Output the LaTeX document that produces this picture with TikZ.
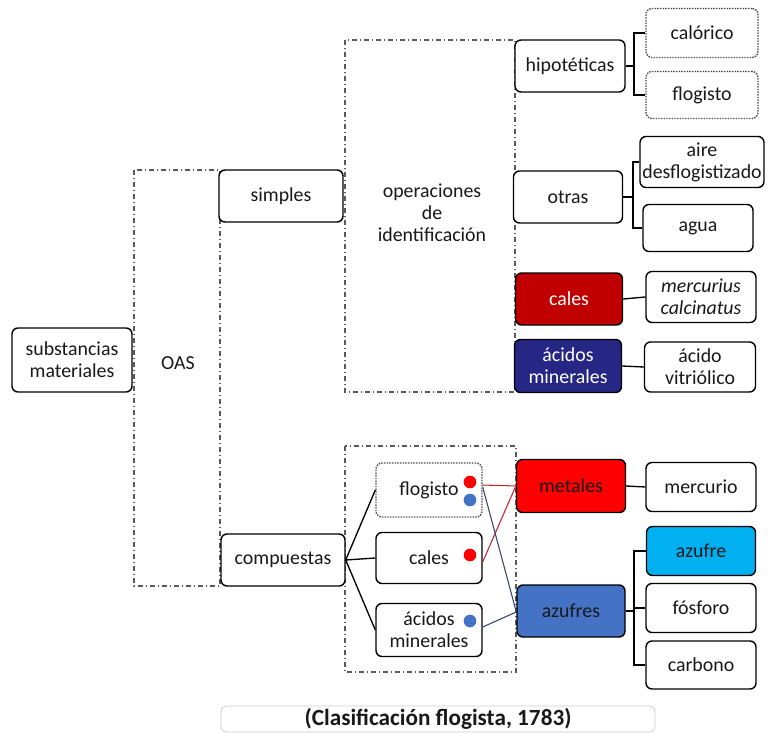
\documentclass[tikz,border=0pt]{standalone}
\usepackage{fontspec}
\setmainfont{Carlito}
\definecolor{calred}{HTML}{C00000}
\definecolor{acblue}{HTML}{262684}
\definecolor{metred}{HTML}{FF0000}
\definecolor{azblue}{HTML}{4472C4}
\definecolor{azcyan}{HTML}{00B0F0}
\definecolor{redline}{HTML}{C0282D}
\definecolor{blueline}{HTML}{3B4470}
\definecolor{dotblue}{HTML}{4472C4}
\begin{document}
\begin{tikzpicture}[x=0.75pt,y=-0.75pt,
  font=\fontsize{14.9}{16.6}\selectfont,
  box/.style={draw=black, line width=1.05pt, rounded corners=4.5pt, fill=white, align=center, inner sep=0pt, text=black!90},
  sz/.style 2 args={minimum width={(#1)*0.75pt}, minimum height={(#2)*0.75pt}},
  dotb/.style={box, draw=black!70, line width=1.05pt, dash pattern=on 1.1pt off 0.9pt},
  dd/.style={draw=black!65, line width=0.8pt, dash pattern=on 4pt off 2pt on 1pt off 2pt},
  conn/.style={draw=black, line width=1pt},
  rline/.style={draw=redline, line width=0.8pt},
  bline/.style={draw=blueline, line width=0.8pt},
  rdot/.style={fill=metred, draw=none, circle, inner sep=0pt, minimum size=9.5pt},
  bdot/.style={fill=dotblue, draw=none, circle, inner sep=0pt, minimum size=9.5pt},
  plain/.style={align=center, inner sep=0pt, text=black!90}]
\useasboundingbox (0,0) rectangle (770,734);
\fill[white] (0,0) rectangle (770,734);

% dash-dot groups
\draw[dd] (134,170) rectangle (220,586);
\draw[dd] (345,40) rectangle (515,392);
\draw[dd] (345,446) rectangle (516,672);

% texts
\node[plain] (oas) at (178,363) {OAS};
\node[plain] (ops) at (432,213) {operaciones\\de\\identificación};

% left nodes
\node[box, sz={120}{64}] (sub) at (72,360) {substancias\\materiales};
\node[box, sz={124}{52}] (simp) at (281,196) {simples};
\node[box, sz={124}{52}] (comp) at (283,560) {compuestas};

% simples branch
\node[box, sz={110}{52}] (hip) at (570,66) {hipotéticas};
\node[dotb, sz={112}{49}] (cal) at (702,33) {calórico};
\node[dotb, sz={112}{47}] (flt) at (702,95) {flogisto};
\node[box, sz={109}{52}] (otr) at (568,197) {otras};
\node[box, sz={124}{51}] (aire) at (702,162) {aire\\desflogistizado};
\node[box, sz={110}{47}] (agua) at (698,228) {agua};
\node[box, sz={107}{52}, fill=calred, text=white] (calA) at (569,299) {cales};
\node[box, sz={110}{51}, font=\fontsize{14.9}{16.6}\selectfont\itshape] (merc) at (701,297) {mercurius\\calcinatus};
\node[box, sz={107}{53}, fill=acblue, text=white] (acA) at (568,366) {ácidos\\minerales};
\node[box, sz={111}{50}] (vit) at (700,367) {ácido\\vitriólico};

% compuestas branch
\node[dotb, sz={106}{54}] (flB) at (429,490) {flogisto};
\node[box, sz={106}{51}] (calB) at (429,558) {cales};
\node[box, sz={106}{53}] (acB) at (429,630) {ácidos\\minerales};
\node[rdot] (d1) at (470,482) {};
\node[bdot] (d2) at (470,500) {};
\node[rdot] (d3) at (470,555) {};
\node[bdot] (d4) at (470,621) {};

\node[box, sz={109}{53}, fill=metred] (met) at (571,486) {metales};
\node[box, sz={110}{49}] (mercB) at (701,487) {mercurio};
\node[box, sz={108}{52}, fill=azblue] (azs) at (571,611) {azufres};
\node[box, sz={109}{49}, fill=azcyan] (azu) at (701,551) {azufre};
\node[box, sz={110}{49}] (fos) at (701,608) {fósforo};
\node[box, sz={110}{48}] (carb) at (701,665) {carbono};

% caption
\node[box, draw=black!20, line width=0.6pt, sz={434}{26}, font=\fontsize{17.4}{19}\selectfont\bfseries] (cap) at (438,719) {(Clasificación flogista, 1783)};

% bracket connectors
\coordinate (bh) at (634,66);
\draw[conn] (hip.east) -- (bh);
\draw[conn] (cal.west) -| (bh);
\draw[conn] (flt.west) -| (bh);

\coordinate (bo) at (633,197);
\draw[conn] (otr.east) -- (bo);
\draw[conn] (aire.west) -| (bo);
\draw[conn] (agua.west) -| (bo);

\draw[conn] (calA.east) -- (merc.west);
\draw[conn] (acA.east) -- (vit.west);

\draw[conn] (comp.east) -- (flB.west);
\draw[conn] (comp.east) -- (calB.west);
\draw[conn] (comp.east) -- (acB.west);

\draw[rline] ([yshift=3.75pt]flB.east) -- (met.west);
\draw[rline] ([yshift=-3pt]calB.east) -- (met.west);
\draw[bline] ([yshift=2.25pt]flB.east) -- ([yshift=-0.75pt]azs.west);
\draw[bline] ([yshift=2.25pt]acB.east) -- ([yshift=-0.75pt]azs.west);

\draw[conn] (met.east) -- (mercB.west);

\coordinate (ba) at (634,611);
\draw[conn] (azs.east) -- (ba);
\draw[conn] (azu.west) -| (ba);
\draw[conn] (fos.west) -| (ba);
\draw[conn] (carb.west) -| (ba);
\end{tikzpicture}
\end{document}
